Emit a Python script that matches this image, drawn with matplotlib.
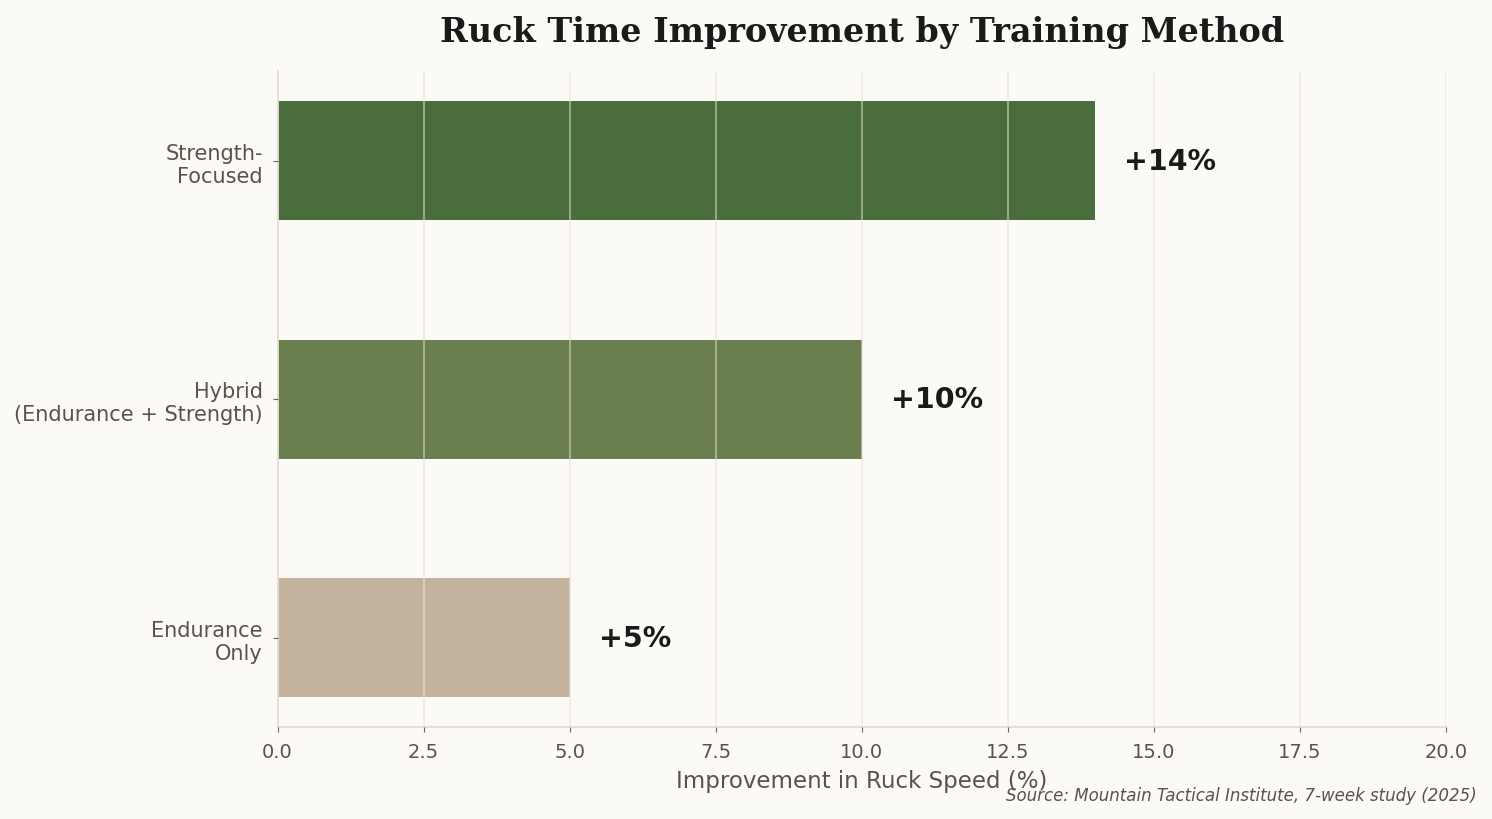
import matplotlib
matplotlib.use("Agg")
import matplotlib.pyplot as plt

plt.rcParams["font.family"] = ["DejaVu Sans"]

categories = ["Endurance\nOnly", "Hybrid\n(Endurance + Strength)", "Strength-\nFocused"]
values = [5, 10, 14]
labels = ["+5%", "+10%", "+14%"]
colors = ["#c4b49f", "#6b7f4e", "#4a6e3b"]

bg = "#fbfaf6"
txt = "#5a5349"

fig, ax = plt.subplots(figsize=(14.92, 8.2), dpi=100)
fig.patch.set_facecolor(bg)
ax.set_facecolor(bg)

ax.barh(categories, values, height=0.5, color=colors, zorder=1)
ax.set_axisbelow(False)
ax.grid(axis="x", color="#e6e1d8", alpha=0.6, linewidth=1.2, zorder=2)
ax.grid(axis="y", visible=False)

for i, (v, l) in enumerate(zip(values, labels)):
    ax.text(v + 0.5, i, l, va="center", ha="left", fontsize=20.5,
            fontweight="bold", color="#1a1a1a", zorder=3)

ax.set_xlim(0, 20)
ax.set_xticks([0, 2.5, 5, 7.5, 10, 12.5, 15, 17.5, 20])
ax.set_xlabel("Improvement in Ruck Speed (%)", fontsize=16.5, color=txt, labelpad=6)
ax.tick_params(axis="x", colors="#6b655c", labelcolor=txt, labelsize=14, pad=7)
ax.tick_params(axis="y", colors="#6b655c", labelcolor=txt, labelsize=15, pad=7)

for s in ["top", "right"]:
    ax.spines[s].set_visible(False)
for s in ["left", "bottom"]:
    ax.spines[s].set_color("#e0dbd3")
    ax.spines[s].set_linewidth(1.2)

ax.set_title("Ruck Time Improvement by Training Method", fontsize=24,
             fontweight="bold", family="DejaVu Serif",
             color="#1a1a1a", pad=22)

fig.text(0.99, 0.018, "Source: Mountain Tactical Institute, 7-week study (2025)",
         ha="right", va="bottom", fontsize=12, style="italic", color=txt)

fig.subplots_adjust(left=0.186, right=0.969, top=0.912, bottom=0.112)
fig.savefig("out.png", dpi=100, facecolor=bg)
